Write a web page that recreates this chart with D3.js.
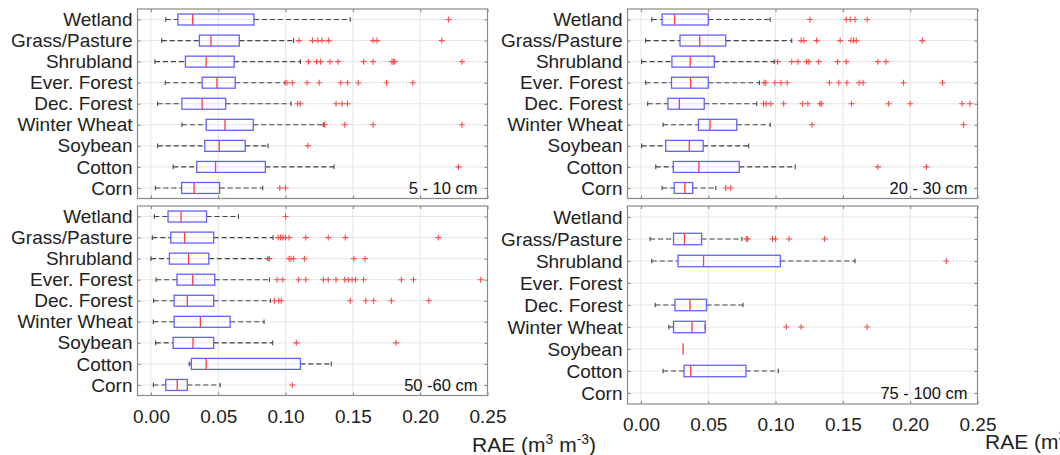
<!DOCTYPE html>
<html>
<head>
<meta charset="utf-8">
<script src="https://cdn.jsdelivr.net/npm/d3@7"></script>
<style>
  body { margin: 0; background: #fff; }
  svg text { font-family: "Liberation Sans", Arial, Helvetica, sans-serif; }
</style>
</head>
<body>
<div id="okvir"></div>
<script>
const kategorije = ["Wetland", "Grass/Pasture", "Shrubland", "Ever. Forest", "Dec. Forest",
                    "Winter Wheat", "Soybean", "Cotton", "Corn"];
const dubine = ["5 - 10 cm", "20 - 30 cm", "50 -60 cm", "75 - 100 cm"];
const xTickovi = [0, 0.05, 0.10, 0.15, 0.20, 0.25];

// [donji brk, Q1, medijan, Q3, gornji brk]
const stats5_10 = [
  [0.011, 0.020, 0.031, 0.0765, 0.148],
  [0.008, 0.036, 0.0446, 0.0656, 0.106],
  [0.003, 0.0256, 0.041, 0.0618, 0.111],
  [0.0106, 0.038, 0.049, 0.0626, 0.0995],
  [0.005, 0.023, 0.038, 0.0555, 0.104],
  [0.023, 0.041, 0.055, 0.076, 0.128],
  [0.005, 0.040, 0.0507, 0.070, 0.087],
  [0.0165, 0.034, 0.048, 0.085, 0.136],
  [0.0033, 0.0228, 0.032, 0.051, 0.083]
];
const out5_10 = [
  [0.221],
  [0.110, 0.120, 0.124, 0.127, 0.132, 0.165, 0.168, 0.216],
  [0.117, 0.123, 0.126, 0.133, 0.139, 0.158, 0.165, 0.179, 0.180, 0.181, 0.231],
  [0.101, 0.105, 0.116, 0.125, 0.141, 0.146, 0.154, 0.175, 0.1945],
  [0.109, 0.111, 0.1375, 0.142, 0.146],
  [0.129, 0.144, 0.165, 0.231],
  [0.1165],
  [0.2285],
  [0.0957, 0.100]
];

const stats20_30 = [
  [0.008, 0.0157, 0.025, 0.050, 0.096],
  [0.0035, 0.029, 0.0437, 0.063, 0.112],
  [0.0005, 0.023, 0.0366, 0.0545, 0.099],
  [0.0035, 0.0227, 0.0369, 0.050, 0.088],
  [0.005, 0.020, 0.0285, 0.047, 0.086],
  [0.0164, 0.0427, 0.0513, 0.0712, 0.096],
  [0.0005, 0.0184, 0.0359, 0.0462, 0.080],
  [0.011, 0.024, 0.043, 0.073, 0.1146],
  [0.0157, 0.0247, 0.0326, 0.0384, 0.0556]
];
const out20_30 = [
  [0.1255, 0.1525, 0.1555, 0.159, 0.168],
  [0.119, 0.121, 0.1305, 0.148, 0.156, 0.158, 0.160, 0.209],
  [0.1015, 0.112, 0.1167, 0.123, 0.1247, 0.132, 0.146, 0.1525, 0.176, 0.182],
  [0.0914, 0.0927, 0.0995, 0.104, 0.1086, 0.140, 0.147, 0.153, 0.162, 0.165, 0.195, 0.224],
  [0.091, 0.093, 0.0965, 0.106, 0.120, 0.124, 0.133, 0.134, 0.1565, 0.184, 0.200, 0.2386, 0.2444],
  [0.127, 0.2396],
  [],
  [0.176, 0.212],
  [0.063, 0.0667]
];

const stats50_60 = [
  [0.0025, 0.0127, 0.0223, 0.0413, 0.065],
  [0.001, 0.0147, 0.025, 0.0466, 0.0907],
  [0.000, 0.0137, 0.0279, 0.043, 0.0869],
  [0.0038, 0.0193, 0.031, 0.0474, 0.088],
  [0.002, 0.0172, 0.027, 0.0466, 0.0887],
  [0.0018, 0.0172, 0.0367, 0.0588, 0.084],
  [0.0035, 0.0165, 0.0312, 0.0466, 0.0904],
  [0.0284, 0.030, 0.041, 0.111, 0.134],
  [0.0018, 0.011, 0.0195, 0.027, 0.0514]
];
const out50_60 = [
  [0.100],
  [0.0945, 0.0963, 0.098, 0.100, 0.1026, 0.115, 0.1317, 0.1444, 0.2135],
  [0.088, 0.1026, 0.104, 0.106, 0.114, 0.1507, 0.159],
  [0.0937, 0.098, 0.1097, 0.115, 0.128, 0.1317, 0.1375, 0.1439, 0.1469, 0.1494, 0.152, 0.158, 0.186, 0.195, 0.245],
  [0.0917, 0.095, 0.0968, 0.148, 0.1596, 0.1654, 0.1786, 0.2064],
  [],
  [0.108, 0.182],
  [],
  [0.105]
];

const stats75_100 = [
  null,
  [0.0068, 0.0242, 0.0323, 0.045, 0.075],
  [0.008, 0.0275, 0.0465, 0.1035, 0.159],
  null,
  [0.0106, 0.0253, 0.0364, 0.0487, 0.0758],
  [0.0207, 0.0242, 0.0379, 0.0477, 0.0477],
  [0.0313, 0.0313, 0.0313, 0.0313, 0.0313],
  [0.0164, 0.032, 0.037, 0.078, 0.102],
  null
];
const out75_100 = [
  [],
  [0.0783, 0.0793, 0.0977, 0.100, 0.110, 0.1364],
  [0.2268],
  [], [],
  [0.108, 0.119, 0.168],
  [], [], []
];

const sviStats = [stats5_10, stats20_30, stats50_60, stats75_100];
const sviOut = [out5_10, out20_30, out50_60, out75_100];

// polozaji okvira
const okviri = [
  {x0: 137.5, x1: 487.5, y0: 9,   y1: 198.5, oznake: false},
  {x0: 627.5, x1: 977.5, y0: 9,   y1: 198.5, oznake: false},
  {x0: 137.5, x1: 487.5, y0: 206, y1: 395.5, oznake: true},
  {x0: 627.5, x1: 977.5, y0: 206, y1: 404,   oznake: true}
];

const svg = d3.select("#okvir").append("svg")
  .attr("width", 1060)
  .attr("height", 455);

const tekstBoja = "#222";

okviri.forEach((o, p) => {
  const xSkala = d3.scaleLinear().domain([-0.01, 0.25]).range([o.x0, o.x1]);
  const ySkala = d3.scalePoint().domain(kategorije).range([o.y0, o.y1]).padding(0.5);
  const korak = ySkala.step();
  const visinaKutije = korak * 0.52;
  const g = svg.append("g");

  // mreza
  g.selectAll(".vgrid").data(xTickovi).join("line")
    .attr("x1", d => xSkala(d)).attr("x2", d => xSkala(d))
    .attr("y1", o.y0).attr("y2", o.y1)
    .attr("stroke", "#e6e6e6").attr("stroke-width", 1);
  g.selectAll(".hgrid").data(kategorije).join("line")
    .attr("x1", o.x0).attr("x2", o.x1)
    .attr("y1", d => ySkala(d)).attr("y2", d => ySkala(d))
    .attr("stroke", "#e6e6e6").attr("stroke-width", 1);

  // osi
  const xDolje = d3.axisBottom(xSkala).tickValues(xTickovi).tickSize(-3).tickPadding(14)
    .tickFormat(o.oznake ? d3.format(".2f") : "");
  const xOs = g.append("g").attr("transform", `translate(0,${o.y1})`).call(xDolje);
  const xGore = d3.axisTop(xSkala).tickValues(xTickovi).tickSize(-3).tickFormat("");
  const xOsGore = g.append("g").attr("transform", `translate(0,${o.y0})`).call(xGore);
  const yLijevo = d3.axisLeft(ySkala).tickSize(-3).tickPadding(5);
  const yOs = g.append("g").attr("transform", `translate(${o.x0},0)`).call(yLijevo);
  const yDesno = d3.axisRight(ySkala).tickSize(-3).tickFormat("");
  const yOsDesno = g.append("g").attr("transform", `translate(${o.x1},0)`).call(yDesno);

  [xOs, xOsGore, yOs, yOsDesno].forEach(os => {
    os.select(".domain").remove();
    os.selectAll(".tick line").attr("stroke", "#808080");
  });
  xOs.selectAll("text").attr("fill", tekstBoja).style("font-size", "19px");
  yOs.selectAll("text").attr("fill", tekstBoja).style("font-size", "19px");

  g.append("rect")
    .attr("x", o.x0).attr("y", o.y0)
    .attr("width", o.x1 - o.x0).attr("height", o.y1 - o.y0)
    .attr("fill", "none").attr("stroke", "#8a8a8a").attr("stroke-width", 1.2);

  // kutije
  const stats = sviStats[p];
  kategorije.forEach((k, i) => {
    const s = stats[i];
    const cy = ySkala(k);
    if (s) {
      const [lo, q1, med, q3, hi] = s;
      const brk = g.append("g")
        .attr("stroke", "#444").attr("stroke-width", 1.1);
      if (q1 > lo) {
        brk.append("line").attr("x1", xSkala(lo)).attr("x2", xSkala(q1))
          .attr("y1", cy).attr("y2", cy).attr("stroke-dasharray", "5,3");
        brk.append("line").attr("x1", xSkala(lo)).attr("x2", xSkala(lo))
          .attr("y1", cy - 2.3).attr("y2", cy + 2.3);
      }
      if (hi > q3) {
        brk.append("line").attr("x1", xSkala(q3)).attr("x2", xSkala(hi))
          .attr("y1", cy).attr("y2", cy).attr("stroke-dasharray", "5,3");
      }
      if (hi > q1) {
        brk.append("line").attr("x1", xSkala(hi)).attr("x2", xSkala(hi))
          .attr("y1", cy - 2.3).attr("y2", cy + 2.3);
      }
      if (q3 > q1) {
        g.append("rect")
          .attr("x", xSkala(q1)).attr("y", cy - visinaKutije / 2)
          .attr("width", xSkala(q3) - xSkala(q1)).attr("height", visinaKutije)
          .attr("fill", "none").attr("stroke", "#6161ff").attr("stroke-width", 1.3);
      }
      g.append("line")
        .attr("x1", xSkala(med)).attr("x2", xSkala(med))
        .attr("y1", cy - visinaKutije / 2).attr("y2", cy + visinaKutije / 2)
        .attr("stroke", "#ff3b3b").attr("stroke-width", 1.3);
    }
    // outlieri
    sviOut[p][i].forEach(v => {
      g.append("path")
        .attr("d", `M${xSkala(v) - 3},${cy}h6M${xSkala(v)},${cy - 3}v6`)
        .attr("stroke", "#ff4a4a").attr("stroke-width", 1.1).attr("fill", "none");
    });
  });

  // oznaka dubine
  g.append("text")
    .attr("x", o.x1 - 10)
    .attr("y", ySkala(kategorije[kategorije.length - 1]))
    .attr("dy", "0.36em")
    .attr("text-anchor", "end")
    .attr("fill", "#111")
    .style("font-size", "16.5px")
    .text(dubine[p]);
});

// naslovi osi
[[472, 452], [985, 449]].forEach(([x, y]) => {
  const t = svg.append("text")
    .attr("x", x).attr("y", y)
    .attr("fill", tekstBoja)
    .style("font-size", "21px");
  t.append("tspan").text("RAE (m");
  t.append("tspan").attr("dy", -8).style("font-size", "14px").text("3");
  t.append("tspan").attr("dy", 8).text(" m");
  t.append("tspan").attr("dy", -8).style("font-size", "14px").text("-3");
  t.append("tspan").attr("dy", 8).text(")");
});
</script>
</body>
</html>
